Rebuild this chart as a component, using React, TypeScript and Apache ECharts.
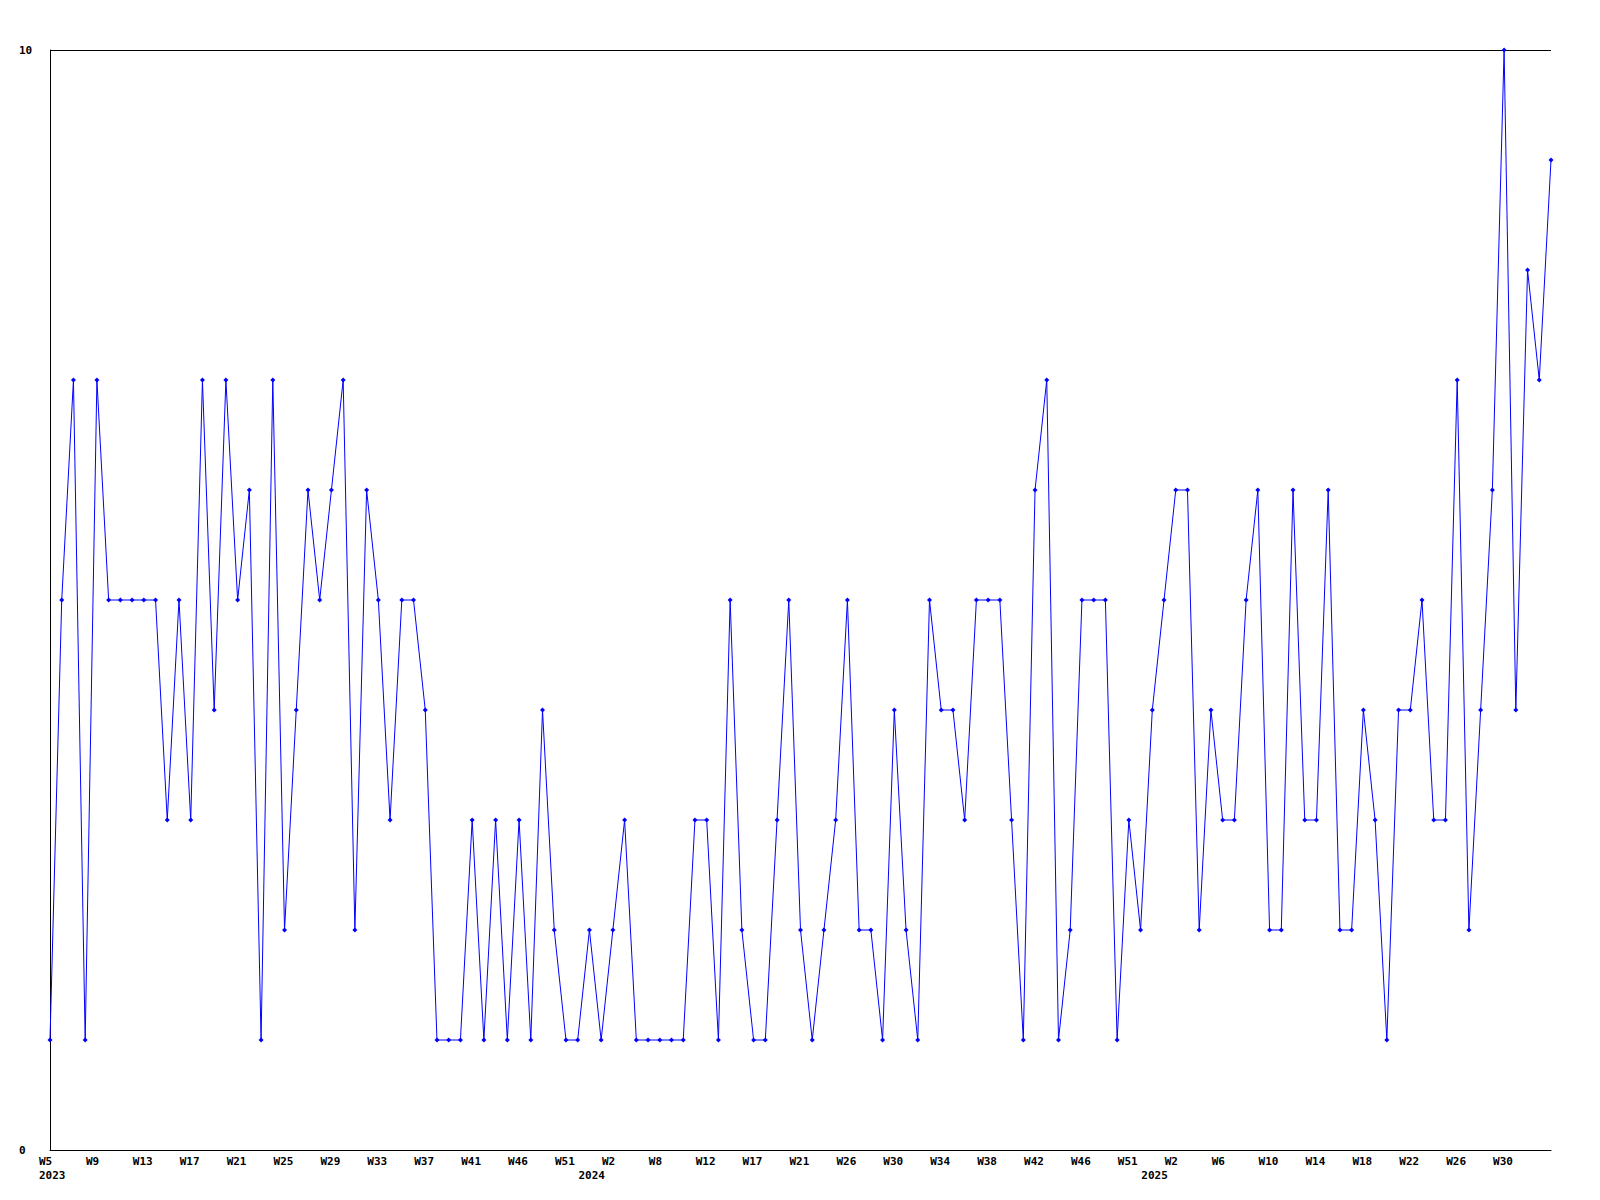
import React, { useEffect, useRef } from "react";
import * as echarts from "echarts";

// Weekly values (one per point)
const values: number[] = [
  1, 5, 7, 1, 7, 5, 5, 5, 5, 5, 3, 5, 3, 7, 4, 7, 5, 6, 1, 7, 2, 4, 6, 5, 6,
  7, 2, 6, 5, 3, 5, 5, 4, 1, 1, 1, 3, 1, 3, 1, 3, 1, 4, 2, 1, 1, 2, 1, 2, 3, 1,
  1, 1, 1, 1, 3, 3, 1, 5, 2, 1, 1, 3, 5, 2, 1, 2, 3, 5, 2, 2, 1, 4, 2, 1, 5, 4,
  4, 3, 5, 5, 5, 3, 1, 6, 7, 1, 2, 5, 5, 5, 1, 3, 2, 4, 5, 6, 6, 2, 4, 3, 3, 5, 6,
  2, 2, 6, 3, 3, 6, 2, 2, 4, 3, 1, 4, 4, 5, 3, 3, 7, 2, 4, 6, 10, 4, 8, 7, 9,
];

// Tick labels shown every 4th point along the x axis
const weekTickLabels: string[] = [
  "W5", "W9", "W13", "W17", "W21", "W25", "W29", "W33", "W37", "W41", "W46", "W51",
  "W2", "W8", "W12", "W17", "W21", "W26", "W30", "W34", "W38", "W42", "W46", "W51",
  "W2", "W6", "W10", "W14", "W18", "W22", "W26", "W30",
];
const tickStep = 4;

// Year labels and the point index at which each is written
const yearLabels: string[] = ["2023", "2024", "2025"];
const yearLabelIndex: number[] = [0, 46, 94];

const yMin = 0;
const yMax = 10;

const categories = values.map((_, i) => String(i));

const FONT = "'DejaVu Sans Mono', 'Liberation Mono', monospace";
const labelFont = {
  fontFamily: FONT,
  fontWeight: "bold" as const,
  fontSize: 11,
  color: "#000",
};

export default function App() {
  const ref = useRef<HTMLDivElement>(null);

  useEffect(() => {
    if (!ref.current) return;
    const chart = echarts.init(ref.current, undefined, { renderer: "svg" });
    const option: any = {
      animation: false,
      backgroundColor: "#ffffff",
      grid: { left: 50, right: 49, top: 50, bottom: 50, containLabel: false },
      xAxis: [
        {
          type: "category",
          data: categories,
          boundaryGap: false,
          position: "bottom",
          axisLine: { show: true, onZero: false, lineStyle: { color: "#000", width: 1 } },
          axisTick: { show: false },
          splitLine: { show: false },
          axisLabel: {
            interval: 0,
            margin: 6,
            ...labelFont,
            formatter: (_v: string, i: number) => {
              if (i % tickStep !== 0) return "";
              const t = weekTickLabels[i / tickStep];
              return t ? `{w|${t}}` : "";
            },
            rich: { w: { ...labelFont, width: 22, align: "left" } },
          },
        },
        {
          type: "category",
          data: categories,
          boundaryGap: false,
          position: "bottom",
          offset: 14,
          axisLine: { show: false },
          axisTick: { show: false },
          splitLine: { show: false },
          axisLabel: {
            interval: 0,
            margin: 6,
            ...labelFont,
            formatter: (_v: string, i: number) => {
              const k = yearLabelIndex.indexOf(i);
              return k >= 0 ? `{w|${yearLabels[k]}}` : "";
            },
            rich: { w: { ...labelFont, width: 22, align: "left" } },
          },
        },
      ],
      yAxis: {
        type: "value",
        min: yMin,
        max: yMax,
        interval: 10,
        axisLine: { show: true, lineStyle: { color: "#000", width: 1 } },
        axisTick: { show: false },
        splitLine: { show: true, lineStyle: { color: "#000", width: 1 } },
        axisLabel: {
          align: "left",
          margin: 31,
          ...labelFont,
        },
      },
      series: [
        {
          type: "line",
          data: values,
          xAxisIndex: 0,
          yAxisIndex: 0,
          color: "#0000ff",
          lineStyle: { color: "#0000ff", width: 1 },
          itemStyle: { color: "#0000ff" },
          symbol: "diamond",
          symbolSize: 5,
          showAllSymbol: true,
          clip: false,
        },
      ],
    };
    chart.setOption(option);
    return () => chart.dispose();
  }, []);

  return (
    <div
      ref={ref}
      style={{
        position: "absolute",
        left: 0,
        top: 0,
        width: 1600,
        height: 1200,
        background: "#fff",
      }}
    />
  );
}
